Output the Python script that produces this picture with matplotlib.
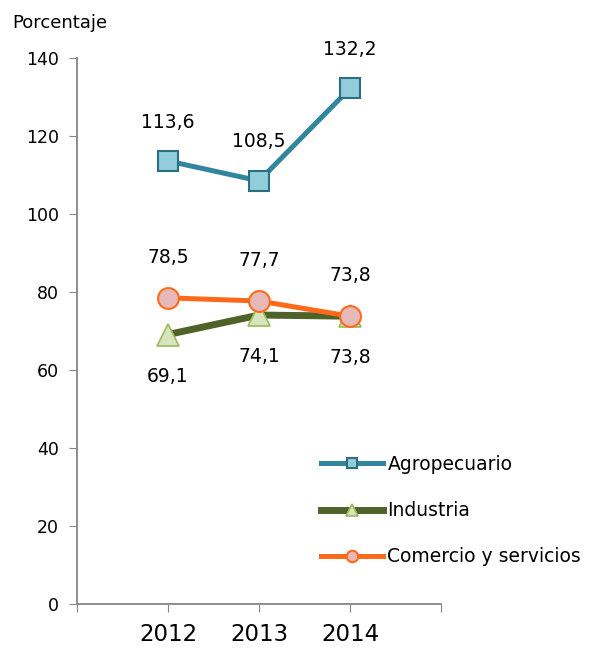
import matplotlib.pyplot as plt

# series values by year
years = ['2012', '2013', '2014']
agropecuario = [113.6, 108.5, 132.2]
industria = [69.1, 74.1, 73.8]
comercio = [78.5, 77.7, 73.8]
y_ticks = [0, 20, 40, 60, 80, 100, 120, 140]


def fmt(v):
    return ('%.1f' % v).replace('.', ',')


def main():
    fig = plt.figure(figsize=(5.96, 6.49), dpi=100)
    ax = fig.add_axes([0.1292, 0.0693, 0.6108, 0.8413])

    x = [1, 2, 3]

    ax.plot(x, agropecuario, color='#31859C', lw=3.6, marker='s', ms=14,
            mfc='#92CDDC', mec='#2B6F80', mew=1.5, label='Agropecuario', zorder=3)
    ax.plot(x, industria, color='#4F6228', lw=5, marker='^', ms=16,
            mfc='#D7E4BD', mec='#9BBB59', mew=1.2, label='Industria', zorder=4)
    ax.plot(x, comercio, color='#FF6A1A', lw=3.6, marker='o', ms=15,
            mfc='#E6B9B8', mec='#FF6A1A', mew=1.5, label='Comercio y servicios', zorder=5)

    # data labels
    for xi, v in zip(x, agropecuario):
        ax.annotate(fmt(v), (xi, v), xytext=(0, 28), textcoords='offset points',
                    ha='center', va='center', fontsize=13.5)
    for xi, v in zip(x, comercio):
        ax.annotate(fmt(v), (xi, v), xytext=(0, 29), textcoords='offset points',
                    ha='center', va='center', fontsize=13.5)
    for xi, v in zip(x, industria):
        ax.annotate(fmt(v), (xi, v), xytext=(0, -30), textcoords='offset points',
                    ha='center', va='center', fontsize=13.5)

    ax.set_xlim(0, 4)
    ax.set_ylim(0, 140)
    ax.set_yticks(y_ticks)
    ax.set_yticklabels([str(t) for t in y_ticks], fontsize=12.5)
    ax.set_xticks([0, 1, 2, 3, 4])
    ax.set_xticklabels([''] + years + [''], fontsize=16.5)
    ax.tick_params(axis='x', length=6, color='#868686', pad=8)
    ax.tick_params(axis='y', length=6, color='#868686', pad=7)

    for s in ['top', 'right']:
        ax.spines[s].set_visible(False)
    for s in ['left', 'bottom']:
        ax.spines[s].set_color('#868686')
        ax.spines[s].set_linewidth(1.3)

    fig.text(0.02, 0.965, 'Porcentaje', fontsize=13, ha='left', va='center')

    ax.legend(loc='upper left', bbox_to_anchor=(0.51, 0.325), bbox_transform=fig.transFigure,
              frameon=False, fontsize=13.5, handlelength=3.3, labelspacing=1.45,
              handletextpad=0.25, markerscale=0.55)

    fig.savefig('out.png', dpi=100)


if __name__ == '__main__':
    main()
